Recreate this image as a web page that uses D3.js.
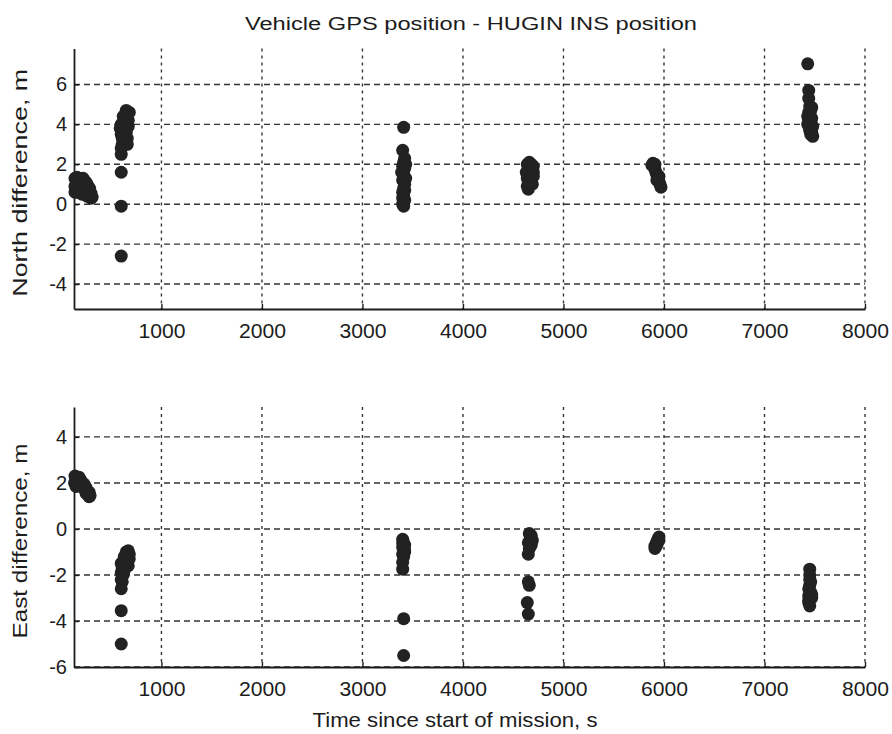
<!DOCTYPE html>
<html>
<head>
<meta charset="utf-8">
<script src="https://cdn.jsdelivr.net/npm/d3@7"></script>
<style>
  body { margin: 0; background: #fff; }
  text { font-family: "Liberation Sans", Arial, sans-serif; fill: #1c1c1c; }
</style>
</head>
<body>
<svg id="chart" width="892" height="734"></svg>
<script>
// tick labels
const xTicks = [1000, 2000, 3000, 4000, 5000, 6000, 7000, 8000];
const northTicks = [6, 4, 2, 0, -2, -4];
const eastTicks = [4, 2, 0, -2, -4, -6];

// North difference (time s, metres)
const northT = [
  140, 150, 160, 170, 190, 200, 210, 220, 230, 240, 250, 260, 270, 280, 285, 290, 300, 150,
  140, 160, 180, 200, 180, 230, 250, 270, 300, 310, 140, 170, 210, 260,
  650, 660, 640, 620, 600, 630, 610, 650, 600, 620, 640, 660, 610, 630, 600, 600, 670, 590, 600, 600, 600,
  680, 670, 650, 630, 620, 660, 640, 610,
  3410, 3400, 3420, 3410, 3400, 3420, 3410, 3400, 3420, 3410, 3400, 3410, 3420, 3400, 3410,
  3430, 3390, 3420, 3400, 3430,
  4640, 4660, 4680, 4700, 4650, 4690, 4660, 4700, 4640, 4680, 4660, 4640, 4650, 4690, 4670,
  4630, 4700, 4650, 4680,
  5890, 5900, 5910, 5920, 5930, 5940, 5950, 5960, 5970, 5910, 5930, 5880, 5950,
  7430, 7440, 7440, 7450, 7460, 7450, 7470, 7440, 7460, 7450, 7470, 7480, 7460, 7440, 7470,
  7430, 7480, 7450, 7430
];
const northV = [
  1.3, 1.0, 0.8, 1.2, 1.1, 0.9, 0.7, 1.3, 1.2, 0.9, 0.7, 1.0, 0.6, 0.5, 0.8, 0.4, 0.3, 0.65,
  0.9, 1.35, 1.3, 1.25, 0.6, 0.8, 1.1, 0.9, 0.55, 0.35, 0.6, 0.6, 0.5, 0.4,
  4.7, 4.5, 4.3, 4.1, 4.0, 3.9, 3.7, 3.8, 3.5, 3.4, 3.2, 3.3, 3.0, 3.1, 2.8, 2.5, 4.2, 3.8, 1.6, -0.1, -2.6,
  4.6, 3.9, 3.6, 3.6, 4.4, 3.0, 4.0, 3.3,
  3.85, 2.7, 2.3, 2.1, 1.9, 1.8, 1.5, 1.2, 1.0, 0.8, 0.6, 0.4, 0.2, 0.0, -0.1,
  1.3, 1.6, 0.7, 0.3, 2.0,
  2.0, 2.1, 2.0, 1.9, 1.8, 1.7, 1.5, 1.4, 1.3, 1.2, 1.0, 0.9, 0.75, 1.0, 1.6,
  1.6, 1.6, 1.15, 1.4,
  2.05, 1.9, 1.75, 1.6, 1.45, 1.3, 1.15, 1.0, 0.85, 2.0, 1.2, 1.95, 1.4,
  7.03, 5.7, 5.3, 4.9, 4.7, 4.5, 4.3, 4.2, 4.0, 3.8, 3.6, 3.4, 3.5, 4.6, 4.85,
  4.4, 3.9, 3.7, 4.0
];

// East difference (time s, metres)
const eastT = [
  140, 150, 170, 190, 200, 210, 220, 240, 250, 260, 270, 280, 290, 160, 230,
  135, 180, 200, 250, 280, 150,
  670, 660, 650, 640, 680, 620, 660, 640, 610, 630, 600, 620, 600, 610, 600, 600, 600, 670,
  680, 650, 630, 600, 660, 640,
  3400, 3410, 3400, 3420, 3410, 3400, 3420, 3400, 3400, 3410, 3410, 3420, 3400,
  4660, 4680, 4670, 4650, 4680, 4660, 4650, 4650, 4660, 4640, 4650, 4670, 4690,
  5950, 5940, 5930, 5920, 5910, 5910, 5950, 5930,
  7450, 7450, 7450, 7450, 7440, 7460, 7440, 7470, 7450, 7440, 7450, 7470, 7460, 7440
];
const eastV = [
  2.3, 2.2, 2.1, 2.0, 2.1, 1.9, 1.8, 1.7, 1.8, 1.6, 1.5, 1.4, 1.45, 1.9, 1.95,
  2.0, 2.25, 1.95, 1.55, 1.6, 1.85,
  -0.95, -1.1, -1.0, -1.2, -1.3, -1.4, -1.5, -1.6, -1.7, -1.8, -1.9, -2.0, -2.2, -2.3, -2.6, -3.55, -5.0, -1.6,
  -1.1, -1.3, -1.2, -1.5, -1.35, -1.45,
  -0.45, -0.6, -0.8, -1.0, -1.2, -1.1, -0.9, -1.45, -1.75, -3.9, -5.5, -0.7, -0.6,
  -0.2, -0.3, -0.45, -0.6, -0.7, -0.85, -1.1, -2.3, -2.45, -3.2, -3.7, -0.25, -0.5,
  -0.35, -0.45, -0.55, -0.65, -0.75, -0.85, -0.5, -0.7,
  -1.75, -2.0, -2.2, -2.45, -2.6, -2.75, -2.9, -2.85, -3.05, -3.2, -3.35, -3.0, -2.3, -3.1
];

const svg = d3.select("#chart");

const x = d3.scaleLinear().domain([130, 8000]).range([74, 865]);

function DrawPanel(top, bottom, yDomain, yTicks, times, values, label, labelLen) {
  const y = d3.scaleLinear().domain(yDomain).range([bottom, top]);
  const g = svg.append("g");

  // grid
  g.selectAll(".hgrid")
    .data(yTicks)
    .join("line")
    .attr("x1", x.range()[0])
    .attr("x2", x.range()[1])
    .attr("y1", (d) => y(d))
    .attr("y2", (d) => y(d))
    .attr("stroke", "#333")
    .attr("stroke-width", 1.4)
    .attr("stroke-dasharray", "6,4");
  g.selectAll(".vgrid")
    .data(xTicks)
    .join("line")
    .attr("x1", (d) => x(d))
    .attr("x2", (d) => x(d))
    .attr("y1", top)
    .attr("y2", bottom)
    .attr("stroke", "#333")
    .attr("stroke-width", 1.4)
    .attr("stroke-dasharray", "3,4");

  // axes
  const yAxis = g.append("g")
    .attr("transform", `translate(${x.range()[0]},0)`)
    .call(d3.axisLeft(y).tickValues(yTicks).tickSizeInner(-5).tickSizeOuter(0).tickPadding(7));
  const xAxis = g.append("g")
    .attr("transform", `translate(0,${bottom})`)
    .call(d3.axisBottom(x).tickValues(xTicks).tickFormat(d3.format("d"))
      .tickSizeInner(-5).tickSizeOuter(0).tickPadding(15));
  [yAxis, xAxis].forEach((a) => {
    a.select(".domain").attr("stroke", "#1c1c1c").attr("stroke-width", 1.8);
    a.selectAll(".tick line").attr("stroke", "#1c1c1c").attr("stroke-width", 1.4);
    a.selectAll(".tick text")
      .attr("font-size", "20px")
      .attr("font-family", "Liberation Sans, Arial, sans-serif")
      .attr("fill", "#1c1c1c");
  });
  xAxis.selectAll(".tick text").attr("textLength", 47).attr("lengthAdjust", "spacingAndGlyphs");
  yAxis.selectAll(".tick text").text((d) => (d < 0 ? "-" + Math.abs(d) : d));

  // points
  g.selectAll("circle")
    .data(times.map((t, i) => [t, values[i]]))
    .join("circle")
    .attr("cx", (d) => x(d[0]))
    .attr("cy", (d) => y(d[1]))
    .attr("r", 6.5)
    .attr("fill", "#222");

  // y label
  g.append("text")
    .attr("transform", `translate(27,${(top + bottom) / 2 + 4}) rotate(-90)`)
    .attr("text-anchor", "middle")
    .attr("font-size", "20px")
    .attr("textLength", labelLen)
    .attr("lengthAdjust", "spacingAndGlyphs")
    .text(label);
}

DrawPanel(48.5, 309, [-5.25, 7.8], northTicks, northT, northV, "North difference, m", 228);
DrawPanel(407, 667, [-6, 5.3], eastTicks, eastT, eastV, "East difference, m", 195);

// title
svg.append("text")
  .attr("x", 471)
  .attr("y", 30)
  .attr("text-anchor", "middle")
  .attr("font-size", "18px")
  .attr("textLength", 452)
  .attr("lengthAdjust", "spacingAndGlyphs")
  .text("Vehicle GPS position - HUGIN INS position");

// x label
svg.append("text")
  .attr("x", 455)
  .attr("y", 727)
  .attr("text-anchor", "middle")
  .attr("font-size", "21px")
  .attr("textLength", 285)
  .attr("lengthAdjust", "spacingAndGlyphs")
  .text("Time since start of mission, s");
</script>
</body>
</html>
